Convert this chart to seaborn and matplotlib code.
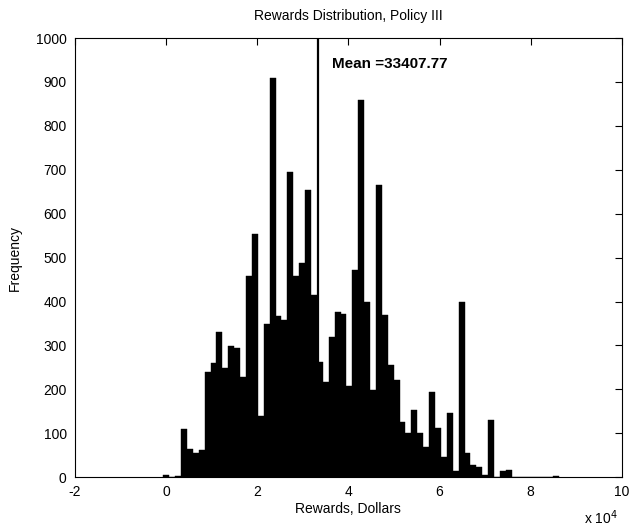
import numpy as np
import pandas as pd
import matplotlib
matplotlib.use("Agg")
import matplotlib.pyplot as plt
import seaborn as sns
from matplotlib.ticker import FuncFormatter, MultipleLocator

# histogram bins (dollars)
bin_start = -608.0
bin_width = 1296.0
counts = [6, 0, 3, 110, 65, 54, 62, 240, 259, 331,
          249, 298, 295, 228, 459, 553, 139, 348, 909, 367,
          357, 694, 459, 488, 653, 414, 262, 217, 320, 376,
          371, 207, 471, 859, 398, 198, 665, 369, 255, 222,
          125, 100, 153, 100, 68, 195, 111, 45, 145, 14,
          398, 55, 27, 24, 4, 131, 0, 14, 17, 0,
          0, 0, 0, 0, 0, 0, 2]
mean_reward = 33407.77

edges = [bin_start + bin_width * i for i in range(len(counts) + 1)]
centers = [(a + b) / 2 for a, b in zip(edges[:-1], edges[1:])]
df = pd.DataFrame({'reward': centers, 'freq': counts})

sns.set_style('white')
plt.rcParams['font.family'] = ['Liberation Sans', 'DejaVu Sans']
plt.rcParams['text.color'] = 'black'
plt.rcParams['axes.labelcolor'] = 'black'

fig = plt.figure(figsize=(6.3, 5.29), dpi=100)
ax = fig.add_axes([0.119, 0.098, 0.868, 0.830])

sns.histplot(data=df, x='reward', weights='freq', bins=edges, color='black',
             edgecolor='black', linewidth=0.3, alpha=1.0, ax=ax)

ax.axvline(mean_reward, color='black', linewidth=1.6)
ax.text(36300, 940, 'Mean =33407.77', fontsize=11, fontweight='bold',
        va='center', ha='left', color='black')

ax.set_xlim(-20000, 100000)
ax.set_ylim(0, 1000)
ax.xaxis.set_major_locator(MultipleLocator(20000))
ax.yaxis.set_major_locator(MultipleLocator(100))
ax.xaxis.set_major_formatter(FuncFormatter(lambda v, p: f'{v / 1e4:g}'))

ax.tick_params(direction='in', length=5, width=0.8, top=True, right=True,
               labelsize=10, colors='black', pad=6)
for s in ax.spines.values():
    s.set_color('black')
    s.set_linewidth(0.8)

ax.set_title('Rewards Distribution, Policy III', fontsize=10, pad=13, color='black')
ax.set_xlabel('Rewards, Dollars', fontsize=10, labelpad=2, color='black')
ax.set_ylabel('Frequency', fontsize=10, labelpad=10, color='black')
fig.text(0.927, 0.004, 'x 10$^{4}$', fontsize=10, ha='left', va='bottom', color='black')

fig.savefig('out.png', dpi=100)
